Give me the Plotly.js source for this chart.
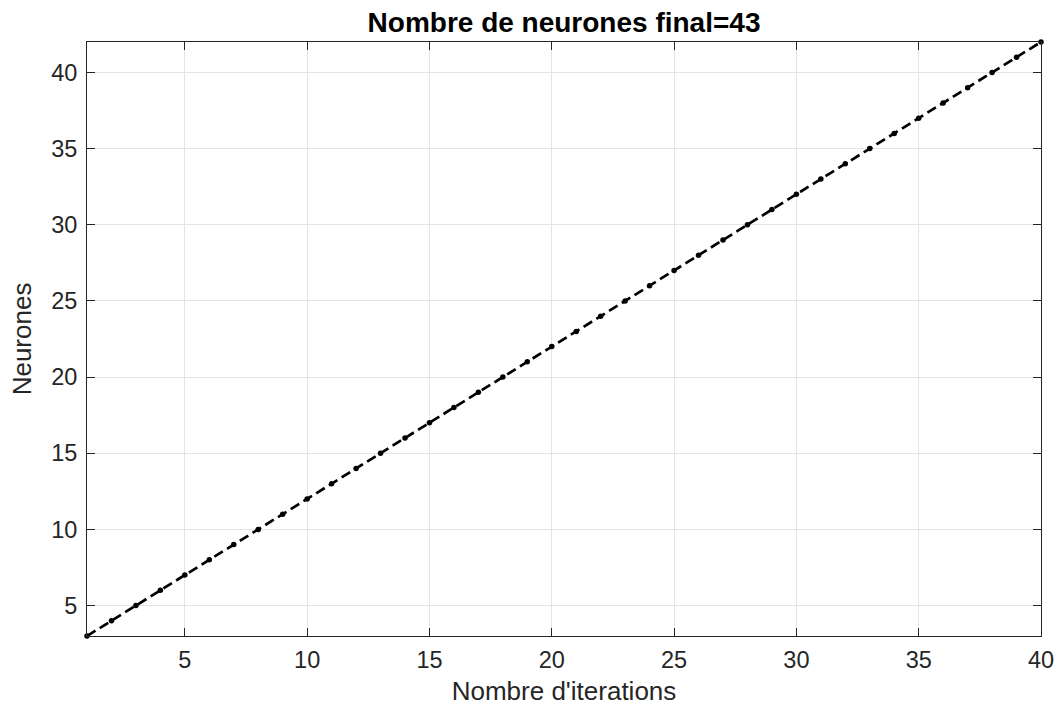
<!DOCTYPE html>
<html>
<head>
<meta charset="utf-8">
<script src="https://cdn.plot.ly/plotly-3.0.1.min.js"></script>
<style>html,body{margin:0;padding:0;background:#fff;}#chart{width:1059px;height:709px;}</style>
</head>
<body>
<div id="chart"></div>
<script>
var iterations = [1,2,3,4,5,6,7,8,9,10,11,12,13,14,15,16,17,18,19,20,21,22,23,24,25,26,27,28,29,30,31,32,33,34,35,36,37,38,39,40];
var neurones = [3,4,5,6,7,8,9,10,11,12,13,14,15,16,17,18,19,20,21,22,23,24,25,26,27,28,29,30,31,32,33,34,35,36,37,38,39,40,41,42];
var xTicks = [5,10,15,20,25,30,35,40];
var yTicks = [5,10,15,20,25,30,35,40];
var titleText = 'Nombre de neurones final=43';
var xTitle = "Nombre d'iterations";
var yTitle = 'Neurones';

var FONT = 'Liberation Sans, Arial, Helvetica, sans-serif';
var trace = {
  x: iterations, y: neurones, type: 'scatter', mode: 'lines+markers',
  line: {color: '#000', width: 2.7, dash: '10px,5px'},
  marker: {color: '#000', size: 5.5},
  cliponaxis: false, hoverinfo: 'none'
};
var axisCommon = {
  showline: true, linecolor: '#262626', linewidth: 1, mirror: 'ticks',
  ticks: 'inside', ticklen: 8, tickwidth: 1, tickcolor: '#262626',
  showgrid: true, gridcolor: '#e5e5e5', gridwidth: 1, zeroline: false,
  tickfont: {family: FONT, size: 23.5, color: '#262626'},
  tickmode: 'array'
};
var layout = {
  width: 1059, height: 709,
  margin: {l: 87, r: 18, t: 42, b: 73},
  paper_bgcolor: '#fff', plot_bgcolor: '#fff',
  showlegend: false,
  title: {text: '<b>' + titleText + '</b>', font: {family: FONT, size: 28, color: '#000'},
          x: 0.5326, xanchor: 'center', xref: 'container', y: 0.969, yanchor: 'middle', yref: 'container'},
  xaxis: Object.assign({}, axisCommon, {range: [1, 40], tickvals: xTicks, ticktext: xTicks.map(String),
    ticklabelstandoff: 3,
    title: {text: xTitle, font: {family: FONT, size: 26, color: '#262626'}, standoff: 9}}),
  yaxis: Object.assign({}, axisCommon, {range: [3, 42], tickvals: yTicks, ticktext: yTicks.map(String),
    ticklabelstandoff: 4,
    title: {text: yTitle, font: {family: FONT, size: 26, color: '#262626'}, standoff: 12}})
};
Plotly.newPlot('chart', [trace], layout, {displayModeBar: false, staticPlot: true});
</script>
</body>
</html>
